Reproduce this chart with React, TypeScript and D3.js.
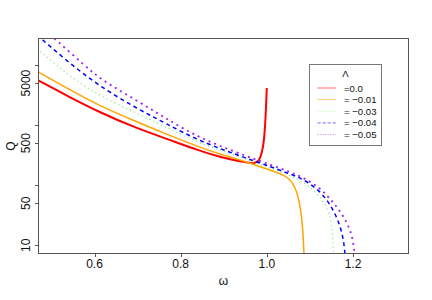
import React from "react";
import * as d3 from "d3";

// ---- data (ω, Q) ----
const omegaRed = [0.4665, 0.47, 0.5415, 0.6127, 0.6963, 0.7659, 0.8449, 0.8913, 0.9377, 0.9609, 0.9725, 0.9795, 0.9841, 0.9888, 0.9923, 0.9951, 0.9974, 0.9988, 0.9999];
const qRed = [5693, 5523, 2935, 1621, 894.6, 598, 371, 294, 248, 234, 234, 248, 278, 357, 485, 768, 1473, 2616, 4143];

const omegaOrange = [0.4665, 0.47, 0.5415, 0.6127, 0.6963, 0.7659, 0.8449, 0.8913, 0.9377, 0.9725, 1.0073, 1.0306, 1.0468, 1.0584, 1.0677, 1.0747, 1.0805, 1.084, 1.0863, 1.087];
const qOrange = [7886, 7647, 3911, 2079, 1148, 711, 424, 330, 263, 217, 179, 156.6, 136.9, 113.0, 84.8, 56.7, 31.9, 16.6, 7.45, 5];

const omegaGreen = [0.4665, 0.47, 0.5199, 0.557, 0.6127, 0.6963, 0.7659, 0.8449, 0.9609, 1.0073, 1.0538, 1.0847, 1.1118, 1.1234, 1.139, 1.1466, 1.1513, 1.1543, 1.155, 1.1555];
const qGreen = [18670, 17770, 8915, 5523, 3050, 1590, 929.5, 494, 258, 193.3, 145.0, 113.0, 78.6, 63.6, 43.4, 31.3, 20.2, 10.1, 7.45, 5];

const omegaBlue = [0.4665, 0.4797, 0.5415, 0.6127, 0.6963, 0.7659, 0.8449, 0.9609, 1.0073, 1.0538, 1.0847, 1.1234, 1.1466, 1.1659, 1.1775, 1.1815, 1.1822];
const qBlue = [31550, 26060, 10800, 4388, 1925, 1063, 533, 268, 204.7, 153.6, 126.8, 80.1, 48.7, 26.4, 13.5, 7.45, 5];

const omegaPurple = [0.4967, 0.5067, 0.5802, 0.6127, 0.6963, 0.7659, 0.8449, 0.9609, 1.0073, 1.0538, 1.0847, 1.1234, 1.1466, 1.1738, 1.1931, 1.2007, 1.2035, 1.2042];
const qPurple = [32170, 27600, 9441, 5851, 2616, 1288, 598, 289, 221, 165.8, 134.3, 89.8, 60.1, 34.5, 19.0, 11.35, 7.45, 5];

const legendLabels = ["=0.0", "= \u22120.01", "= \u22120.03", "= \u22120.04", "= \u22120.05"];
const xTicks = [0.6, 0.8, 1.0, 1.2];
const xTickLabels = ["0.6", "0.8", "1.0", "1.2"];
const yTicks = [10, 50, 100, 500, 1000, 5000, 10000];
const yTickLabels = ["10", "50", "", "500", "", "5000", ""];

const series = [
  { w: omegaRed, q: qRed, color: "#ff0000", width: 2, dash: "" },
  { w: omegaOrange, q: qOrange, color: "#ffa500", width: 1.5, dash: "" },
  { w: omegaGreen, q: qGreen, color: "#90ee90", width: 1.3, dash: "1.3,3" },
  { w: omegaBlue, q: qBlue, color: "#0000ff", width: 1.5, dash: "4,3.5" },
  { w: omegaPurple, q: qPurple, color: "#a020f0", width: 1.8, dash: "2,4" },
];

export default function App() {
  const L = 38.5, R = 408.5, T = 38.5, B = 253.5;
  const x = d3.scaleLinear().domain([0.47, 1.3289]).range([L, R]);
  const y = d3.scaleLog().domain([Math.pow(10, 0.8636), Math.pow(10, 4.441)]).range([B, T]);
  const font = "'Liberation Sans', Arial, Helvetica, sans-serif";

  const lineGen = (w: number[], q: number[]) =>
    d3
      .line<number>()
      .x((_, i) => x(w[i]))
      .y((_, i) => y(q[i]))
      .curve(d3.curveBasis)(w) || "";

  const legX = 309.5, legY = 64.5, legW = 72, legH = 81;
  const rowY = (i: number) => 88 + i * 11.65;

  return (
    <svg width={432} height={300} style={{ position: "absolute", left: 0, top: 0, background: "#fff" }} fontFamily={font}>
      <defs>
        <clipPath id="plotclip">
          <rect x={L} y={T} width={R - L} height={B - T} />
        </clipPath>
      </defs>
      <rect x={0} y={0} width={432} height={300} fill="#fff" />
      <g clipPath="url(#plotclip)">
        {series.map((s, i) => (
          <path key={i} d={lineGen(s.w, s.q)} fill="none" stroke={s.color} strokeWidth={s.width} strokeDasharray={s.dash || undefined} />
        ))}
      </g>
      <rect x={L} y={T} width={R - L} height={B - T} fill="none" stroke="#555" strokeWidth={1} />
      {xTicks.map((t, i) => (
        <g key={i}>
          <line x1={Math.round(x(t)) + 0.5} x2={Math.round(x(t)) + 0.5} y1={B} y2={B + 3.5} stroke="#555" />
          <text x={x(t)} y={268} fontSize={12} textAnchor="middle" fill="#111">{xTickLabels[i]}</text>
        </g>
      ))}
      {yTicks.map((t, i) => (
        <g key={i}>
          <line x1={L - 3.5} x2={L} y1={Math.round(y(t)) + 0.5} y2={Math.round(y(t)) + 0.5} stroke="#555" />
          {yTickLabels[i] && (
            <text transform={`translate(30,${y(t)}) rotate(-90)`} fontSize={12} textAnchor="middle" fill="#111">{yTickLabels[i]}</text>
          )}
        </g>
      ))}
      <text x={(L + R) / 2} y={285} fontSize={12} textAnchor="middle" fill="#111">ω</text>
      <text transform={`translate(14.5,${(T + B) / 2}) rotate(-90)`} fontSize={12} textAnchor="middle" fill="#111">Q</text>
      <rect x={legX} y={legY} width={legW} height={legH} fill="#fff" stroke="#777" strokeWidth={1} />
      <text x={legX + legW / 2} y={76.5} fontSize={9.6} textAnchor="middle" fill="#111">Λ</text>
      {series.map((s, i) => (
        <g key={i}>
          <line x1={317.7} x2={335.7} y1={rowY(i)} y2={rowY(i)} stroke={s.color} strokeWidth={1} strokeOpacity={0.6} strokeDasharray={s.dash ? (i === 3 ? "3,2" : "1,1.5") : undefined} />
          <text x={344} y={rowY(i) + 3.5} fontSize={9.6} fill="#111">{legendLabels[i]}</text>
        </g>
      ))}
    </svg>
  );
}
